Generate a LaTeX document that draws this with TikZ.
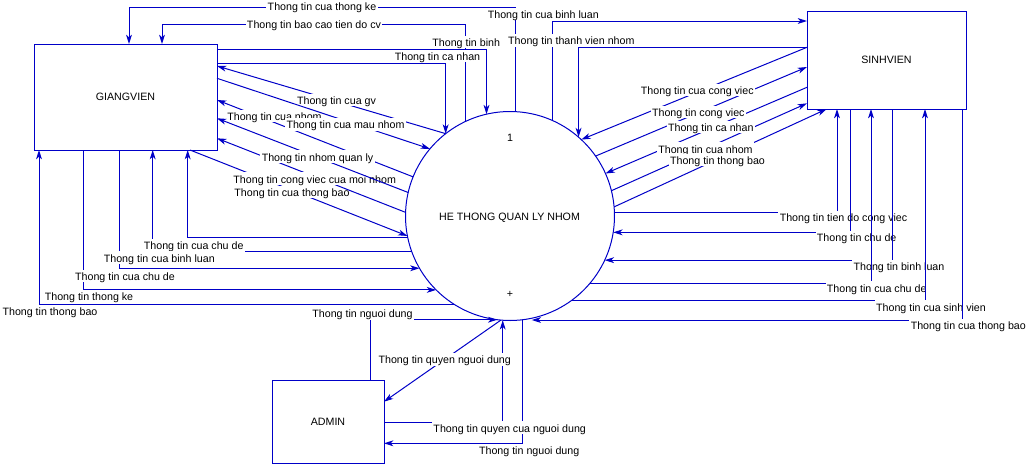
\documentclass[tikz,border=0pt]{standalone}
\usepackage{fontspec}
\setmainfont{Liberation Sans}
\usetikzlibrary{arrows.meta}
\definecolor{lc}{RGB}{0,0,200}
\newcommand{\lblfont}{\fontsize{8}{9.6}\selectfont}
\begin{document}
\begin{tikzpicture}[x=0.75pt,y=-0.75pt,
  flow/.style={draw=lc,line width=0.75pt},
  arr/.style={flow,-{Stealth[length=7pt,width=4.4pt,inset=2pt]}},
  lbl/.style={fill=white,inner xsep=1pt,inner ysep=0.5pt,text height=7.6pt,text depth=0.7pt,font=\lblfont,text=black},
  ent/.style={draw=lc,line width=0.75pt,inner sep=0pt,outer sep=0pt,font=\lblfont},
  ttl/.style={font=\lblfont,inner sep=0pt}]
\fill[white] (0,0) rectangle (1026,465);
\useasboundingbox (0,0) rectangle (1026,465);

% entities and process
\node[ent,minimum width=137.25pt,minimum height=79.5pt] (gv) at (125.5,97) {GIANGVIEN};
\node[ent,minimum width=119.25pt,minimum height=73.5pt] (sv) at (886.5,60) {SINHVIEN};
\node[ent,minimum width=84pt,minimum height=62.25pt] (ad) at (328,421.5) {ADMIN};
\node[ent,circle,minimum size=156.75pt] (circ) at (510,216) {};
\node[ttl] (num) at (510,138) {1};
\node[ttl] (title) at (509.5,217.5) {HE THONG QUAN LY NHOM};
\node[ttl] (plus) at (510,294) {+};

% top flows
\draw[arr] (circ.87) |- (129,7) -- (gv.north -| 129,0);
\draw[arr] (circ.115) |- (162,24) -- (gv.north -| 162,0);
\draw[arr] (gv.east |- 0,49) -| (circ.103.3);
\draw[arr] (gv.east |- 0,63) -| (circ.128.5);
\draw[arr] (circ.66.9) |- (sv.west |- 0,21);
\draw[arr] (sv.west |- 0,47.3) -| (circ.49.4);
\node[lbl] (l1) at (322,6.3) {Thong tin cua thong ke};
\node[lbl] (l2) at (314,23.8) {Thong tin bao cao tien do cv};
\node[lbl] (l3) at (543.3,14) {Thong tin cua binh luan};
\node[lbl] (l4) at (466.2,42) {Thong tin binh};
\node[lbl] (l5) at (571.3,40.3) {Thong tin thanh vien nhom};
\node[lbl] (l6) at (437.5,56) {Thong tin ca nhan};

% left diagonal flows
\draw[arr] (gv.south -| 190,0) -- (circ.191.4);
\node[lbl] (l7) at (292,192) {Thong tin cua thong bao};
\draw[arr] (circ.178.4) -- (gv.east |- 0,138.3);
\node[lbl] (l8) at (314.7,178.6) {Thong tin cong viec cua moi nhom};
\draw[arr] (circ.128.5) -- (gv.east |- 0,66);
\node[lbl] (l9) at (336.5,100) {Thong tin cua gv};
\draw[arr] (circ.158.1) -- (gv.east |- 0,100);
\node[lbl] (l10) at (274.5,116.2) {Thong tin cua nhom};
\draw[arr] (gv.east |- 0,78.3) -- (circ.140.3);
\node[lbl] (l11) at (345.5,124.3) {Thong tin cua mau nhom};
\draw[arr] (circ.167.4) -- (gv.east |- 0,118.3);
\node[lbl] (l12) at (317.5,156.6) {Thong tin nhom quan ly};

% left horizontal flows
\draw[arr] (circ.192.3) -| (gv.south -| 187.7,0);
\draw[arr] (circ.200.6) -| (gv.south -| 152.7,0);
\draw[arr] (gv.south -| 119.3,0) |- (circ.210);
\draw[arr] (gv.south -| 83.3,0) |- (circ.225.6);
\draw[arr] (circ.238.4) -| (gv.south -| 39,0);
\node[lbl] (l13) at (193.7,245.3) {Thong tin cua chu de};
\node[lbl] (l14) at (159.3,257.6) {Thong tin cua binh luan};
\node[lbl] (l15) at (125,276) {Thong tin cua chu de};
\node[lbl] (l16) at (89,296) {Thong tin thong ke};
\node[lbl] (l17) at (50,311) {Thong tin thong bao};

% right diagonal flows
\draw[arr] (sv.west |- 0,47.3) -- (circ.47.3);
\draw[arr] (circ.35.7) -- (sv.west |- 0,67);
\draw[arr] (sv.west |- 0,87.3) -- (circ.24.6);
\draw[arr] (circ.14.4) -- (sv.west |- 0,103.3);
\draw[arr] (circ.5) -- (sv.south -| 826.7,0);
\node[lbl] (l18) at (697.3,90) {Thong tin cua cong viec};
\node[lbl] (l19) at (698.3,112) {Thong tin cong viec};
\node[lbl] (l20) at (710.8,127) {Thong tin ca nhan};
\node[lbl] (l21) at (705.5,148.6) {Thong tin cua nhom};
\node[lbl] (l22) at (717.5,160) {Thong tin thong bao};

% right lower flows
\draw[arr] (circ.2.7) -| (sv.south -| 837,0);
\node[lbl] (l23) at (843.5,217) {Thong tin tien do cong viec};
\draw[arr] (sv.south -| 850,0) |- (circ.351.75);
\node[lbl] (l24) at (856.7,237) {Thong tin chu de};
\draw[arr] (sv.south -| 892,0) |- (circ.335.1);
\node[lbl] (l25) at (899,266) {Thong tin binh luan};
\draw[arr] (circ.320.6) -| (sv.south -| 871,0);
\node[lbl] (l26) at (876.7,287.6) {Thong tin cua chu de};
\draw[arr] (circ.306.5) -| (sv.south -| 925,0);
\node[lbl] (l27) at (931,306.6) {Thong tin cua sinh vien};
\draw[arr] (sv.south -| 962,0) |- (circ.282 |- 0,320);
\node[lbl] (l28) at (968.3,325.3) {Thong tin cua thong bao};

% admin flows
\draw[arr] (ad.north -| 370,0) |- (circ.263.4);
\draw[arr] (circ.265) -- (ad.east |- 0,401.7);
\draw[arr] (ad.east |- 0,422.3) -| (circ.266.6);
\draw[arr] (circ.277) |- (ad.east |- 0,443.3);
\node[lbl] (l29) at (362.5,313.3) {Thong tin nguoi dung};
\node[lbl] (l30) at (444.7,359.3) {Thong tin quyen nguoi dung};
\node[lbl] (l31) at (509.7,427.6) {Thong tin quyen cua nguoi dung};
\node[lbl] (l32) at (529.2,450.3) {Thong tin nguoi dung};
\end{tikzpicture}
\end{document}
